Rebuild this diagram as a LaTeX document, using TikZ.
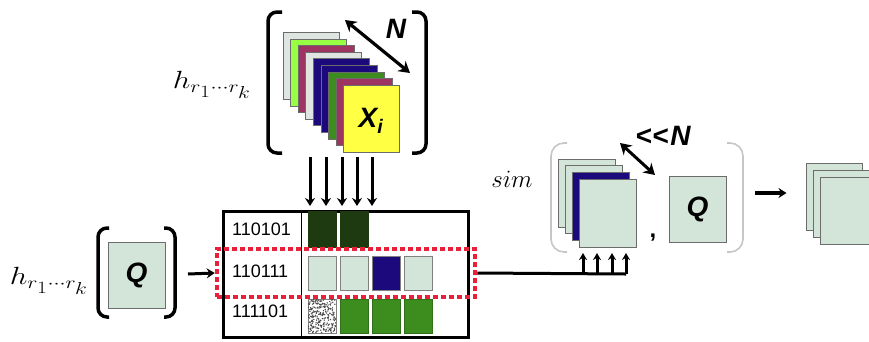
\documentclass[tikz,border=0pt]{standalone}
\usepackage{fontspec}
\setsansfont{Liberation Sans}
\usetikzlibrary{positioning,arrows.meta,patterns}

\definecolor{pale}{HTML}{D3E5D8}
\definecolor{fgray}{HTML}{DFE6E1}
\definecolor{flime}{HTML}{99FF44}
\definecolor{fmaroon}{HTML}{9E3462}
\definecolor{fnavy}{HTML}{1C0A7C}
\definecolor{fgreen}{HTML}{3C8C1E}
\definecolor{fyellow}{HTML}{FFFF44}
\definecolor{dkgreen}{HTML}{1E3A10}
\definecolor{selred}{HTML}{E8203A}

\begin{document}
\begin{tikzpicture}[x=1pt, y=-1pt,
  frame/.style={draw=gray!85!black, line width=1pt, fill=pale, minimum width=56pt, minimum height=67pt, inner sep=0pt},
  cell/.style={draw=gray, line width=1pt, minimum width=28pt, minimum height=34pt, inner sep=0pt},
  code/.style={font=\sffamily\fontsize{18}{18}\selectfont, anchor=west, inner sep=0pt},
  big/.style={font=\sffamily\bfseries\itshape\fontsize{28}{28}\selectfont, inner sep=0pt},
  hlab/.style={font=\fontsize{36}{36}\selectfont, inner sep=0pt},
  arr/.style={-{Stealth[length=8pt,width=10pt]}, line width=3pt},
  dbl/.style={{Stealth[length=11pt,width=13pt]}-{Stealth[length=11pt,width=13pt]}, line width=3.2pt},
  paren/.style={line width=3.5pt, rounded corners=9pt},
  simparen/.style={draw=gray!45, line width=1.6pt, rounded corners=13pt}
]
\useasboundingbox (0,0) rectangle (869,341);

% top stack of images
\foreach \c [count=\i from 0] in {fgray,flime,fmaroon,fgray,fnavy,fnavy,fgreen,fmaroon,fyellow}
  \node[frame, fill=\c] (x\i) at ({311+7.6*\i},{66+6.6*\i}) {};
\node[big] (xi) at (371,121) {X\textsubscript{i}};
\node[hlab] (hx) at (212,85) {\scalebox{1.25}[1]{$h_{\scriptscriptstyle r_1\cdots r_k}$}};
\draw[paren] (282,12) -- (268,12) -- (268,153) -- (282,153);
\draw[paren] (412,12) -- (426,12) -- (426,153) -- (412,153);
\node[big] (n) at (396,29) {N};
\coordinate (na) at (345,20);
\coordinate (nb) at (410,73);
\draw[dbl] (na) -- (nb);

% query
\node[hlab] (hq) at (49,281) {\scalebox{1.25}[1]{$h_{\scriptscriptstyle r_1\cdots r_k}$}};
\draw[paren] (109,228) -- (98,228) -- (98,317) -- (109,317);
\draw[paren] (164,228) -- (175,228) -- (175,317) -- (164,317);
\node[frame, big, minimum width=57pt, minimum height=66pt] (q) at (136.5,275) {Q};

% hash table
\node[draw, line width=3pt, minimum width=245pt, minimum height=126pt, inner sep=0pt] (tbl) at (345.5,274) {};
\draw[line width=1.2pt] ([xshift=80pt]tbl.north west) -- ([xshift=80pt]tbl.south west);
\node[code] (r1) at (232,229) {110101};
\node[code] (r2) at (232,271) {110111};
\node[code] (r3) at (232,311) {111101};
\node[cell, fill=dkgreen, draw=dkgreen, minimum height=36pt] (c11) at (322,229) {};
\node[cell, fill=dkgreen, draw=dkgreen, minimum height=36pt] (c12) at (354,229) {};
\foreach \c [count=\i] in {pale,pale,fnavy,pale}
  \node[cell, fill=\c] (c2\i) at ({290+32*\i},273.5) {};
\node[cell, fill=white] (c31) at (322,316) {};
\pgfmathsetseed{7}
\foreach \k in {1,...,260}
  \fill[gray!55!black] ({308.5+rnd*27},{299.5+rnd*33}) circle (0.75pt);
\foreach \i in {2,3,4}
  \node[cell, fill=fgreen, draw=fgreen!80!black] (c3\i) at ({290+32*\i},316) {};
\node[draw=selred, line width=4.5pt, dash pattern=on 5pt off 3pt, minimum width=258pt, minimum height=48pt, inner sep=0pt] (sel) at (346,273) {};

\coordinate (qout) at (188,274);
\draw[arr] (qout) -- (sel.west);
\foreach \x in {310,326,342,357,372}
  \draw[arr] (\x,157) -- (\x,206);

% similarity
\node[hlab, font=\fontsize{34}{34}\selectfont] (sim) at (512,179) {$sim$};
\draw[simparen] (567,143) -- (551,143) -- (551,252) -- (567,252);
\draw[simparen] (727,143) -- (743,143) -- (743,252) -- (727,252);
\foreach \c [count=\i from 0] in {pale,pale,fnavy,pale}
  \node[frame, fill=\c, minimum width=57pt, minimum height=68pt] (s\i) at ({586.5+7.3*\i},{193+6.7*\i}) {};
\node[big] (few) at (663,136) {<\kern0.5pt<\kern2pt N};
\coordinate (fa) at (620,143);
\coordinate (fb) at (655,175);
\draw[dbl, line width=3pt] (fa) -- (fb);
\node[font=\sffamily\bfseries\fontsize{24}{24}\selectfont, inner sep=0pt] (comma) at (653,238) {,};
\node[frame, big, minimum width=57pt, minimum height=66pt] (qs) at (697.5,209) {Q};

\coordinate (fan) at (626,274);
\draw[line width=3pt] (sel.east) -- (fan);
\foreach \x in {583,597,612,626}
  \draw[arr, -{Stealth[length=7pt,width=8pt]}] (\x,274) -- (\x,253);

% result
\foreach \i in {0,1,2}
  \node[frame] (o\i) at ({834+7*\i},{196.5+7*\i}) {};
\coordinate (simout) at (755,193);
\draw[arr, line width=3.4pt, shorten >=19pt] (simout) -- (simout -| o0.west);
\end{tikzpicture}
\end{document}
